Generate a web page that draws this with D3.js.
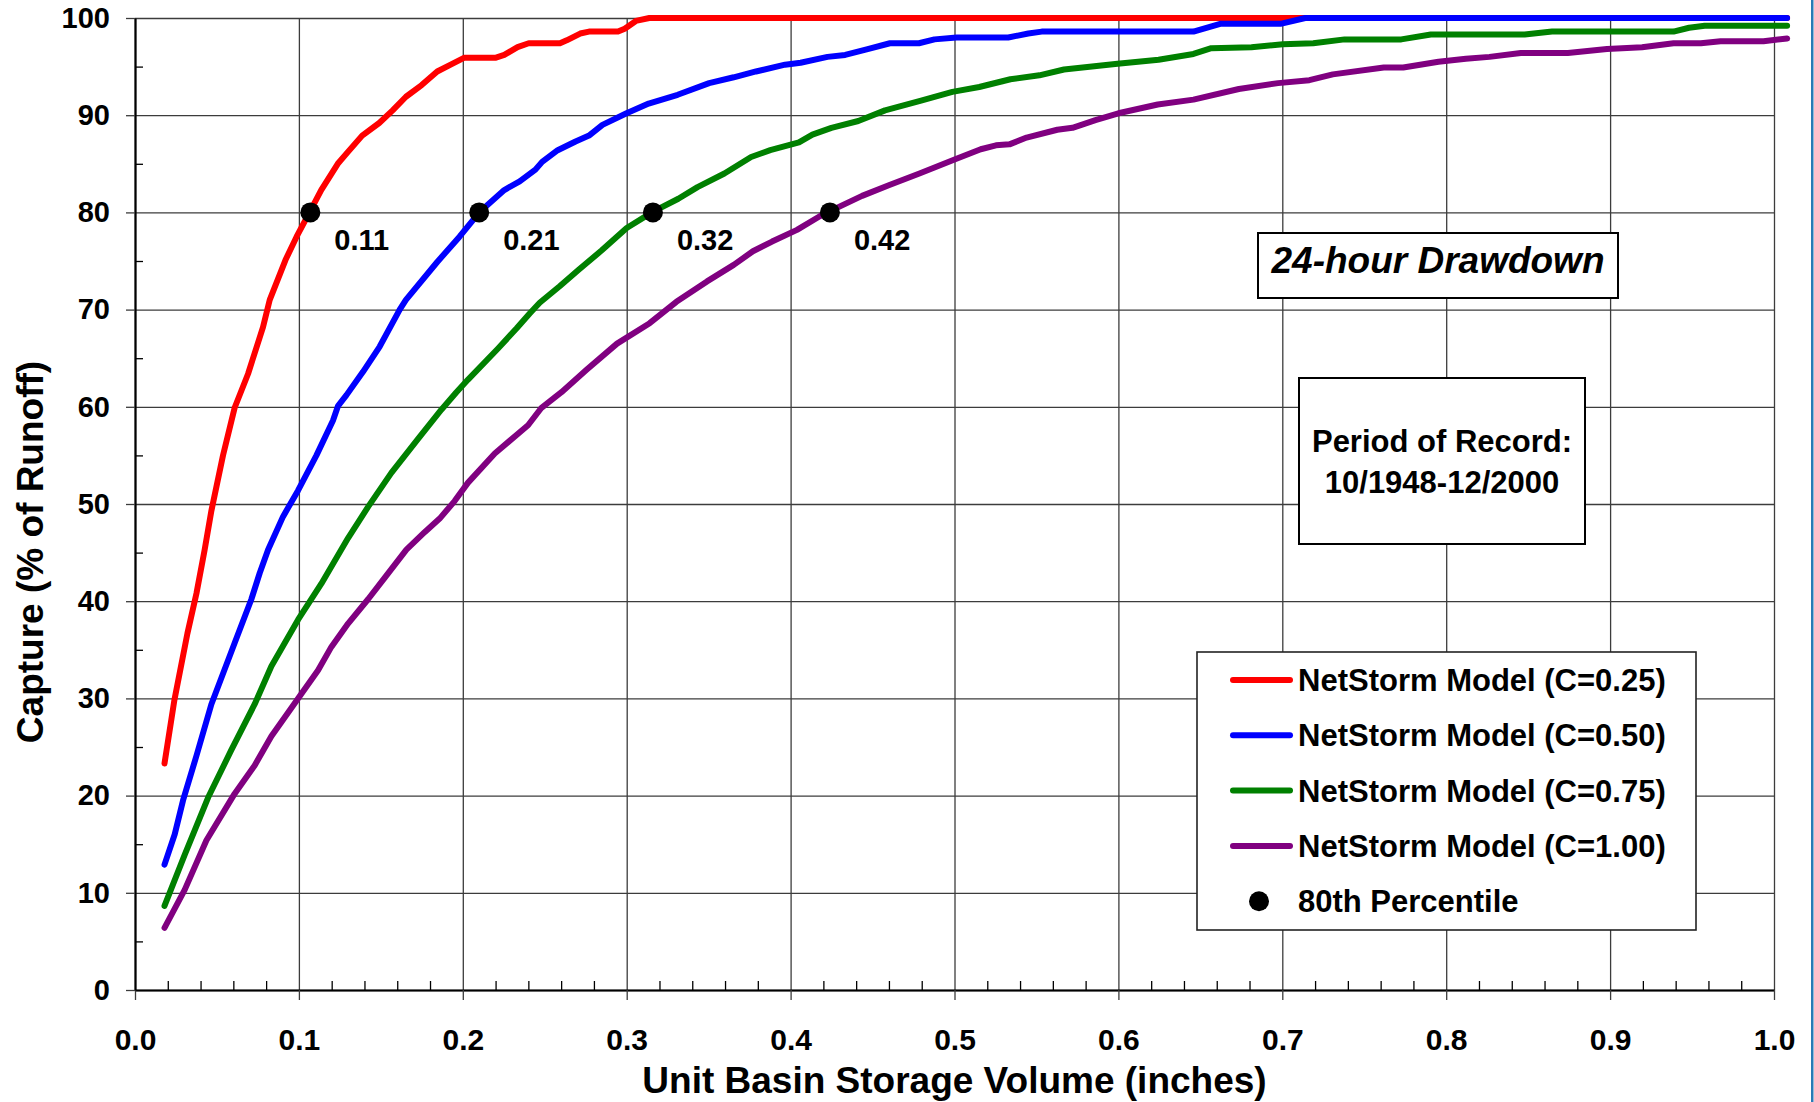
<!DOCTYPE html>
<html><head><meta charset="utf-8">
<script src="https://cdn.jsdelivr.net/npm/d3@7/dist/d3.min.js"></script>
<style>html,body{margin:0;padding:0;background:#fff;overflow:hidden}
text{font-family:"Liberation Sans",Arial,sans-serif;font-weight:bold;fill:#000}</style>
</head><body><svg id="c" width="1814" height="1102"></svg>
<script>
// ---- data ----
const seriesNames = ["NetStorm Model (C=0.25)","NetStorm Model (C=0.50)","NetStorm Model (C=0.75)","NetStorm Model (C=1.00)"];
const seriesColors = ["#FF0000","#0000FF","#008000","#800080"];

const c025X = [0.018,0.024,0.032,0.0375,0.0425,0.0466,0.0537,0.0608,0.069,0.0781,0.0822,0.0918,0.0986,0.1068,0.1136,0.1237,0.1298,0.1386,0.149,0.1572,0.1653,0.1749,0.1844,0.1926,0.2007,0.2198,0.2253,0.2334,0.2402,0.2593,0.2634,0.2716,0.277,0.2947,0.2988,0.3056,0.3138,1.008];
const c025Y = [23.3,29.8,36.7,40.8,45.3,49.3,55.0,59.9,63.4,68.2,71.0,75.1,77.5,80.1,82.3,85.0,86.2,87.9,89.2,90.5,91.9,93.1,94.5,95.2,95.9,95.9,96.2,97.0,97.4,97.4,97.7,98.4,98.6,98.6,98.9,99.7,100,100];

const c050X = [0.018,0.0242,0.0293,0.0375,0.0466,0.0608,0.071,0.0761,0.0812,0.0903,0.0995,0.1107,0.1208,0.1239,0.129,0.1391,0.1493,0.1615,0.1653,0.1844,0.198,0.2106,0.2253,0.2347,0.2443,0.2484,0.2579,0.2688,0.277,0.2852,0.2999,0.3134,0.3311,0.3503,0.3653,0.3789,0.3966,0.4061,0.4225,0.4333,0.447,0.4606,0.4783,0.4878,0.5013,0.5328,0.545,0.5532,0.6458,0.6621,0.6989,0.714,1.008];
const c050Y = [12.9,16.0,19.5,24.1,29.4,35.7,40.2,42.9,45.3,48.7,51.4,55.0,58.6,60.1,61.2,63.6,66.2,70.0,71.0,74.9,77.5,80.1,82.3,83.2,84.4,85.2,86.4,87.3,87.9,89.0,90.2,91.2,92.1,93.3,93.9,94.5,95.2,95.4,96.0,96.2,96.8,97.4,97.4,97.8,98.0,98.0,98.4,98.6,98.6,99.4,99.4,100,100];

const c075X = [0.018,0.0303,0.0446,0.0588,0.073,0.0832,0.0995,0.1137,0.13,0.1422,0.1564,0.1727,0.1869,0.1961,0.2032,0.2215,0.233,0.2408,0.2469,0.2591,0.2707,0.2848,0.3,0.3164,0.3315,0.3432,0.3596,0.3759,0.3876,0.4051,0.4133,0.4249,0.4413,0.4576,0.4796,0.4987,0.5151,0.5341,0.5518,0.5668,0.5995,0.6245,0.6458,0.6567,0.6812,0.7003,0.7189,0.738,0.7726,0.7906,0.8479,0.8646,0.9387,0.9482,0.9577,1.008];
const c075Y = [8.65,13.9,19.8,24.7,29.4,33.3,38.1,41.8,46.5,49.7,53.2,56.7,59.7,61.5,62.8,66.0,68.1,69.6,70.7,72.4,74.1,76.1,78.4,80.1,81.4,82.6,84.0,85.7,86.4,87.2,88.0,88.7,89.4,90.5,91.5,92.4,92.9,93.7,94.1,94.7,95.3,95.7,96.3,96.9,97.0,97.3,97.4,97.8,97.8,98.3,98.3,98.6,98.6,99.0,99.2,99.2];

const c100X = [0.018,0.0303,0.0436,0.0608,0.073,0.0832,0.0995,0.1117,0.1198,0.13,0.1422,0.1523,0.1656,0.1767,0.1859,0.195,0.2032,0.2195,0.2398,0.248,0.2602,0.2755,0.2941,0.314,0.3303,0.349,0.3653,0.377,0.3887,0.4039,0.4178,0.4237,0.4436,0.4599,0.4786,0.5008,0.516,0.5253,0.5335,0.544,0.5627,0.572,0.586,0.6,0.624,0.6458,0.6735,0.6974,0.7165,0.7308,0.7619,0.7738,0.7953,0.812,0.8264,0.8455,0.8742,0.8981,0.9195,0.9387,0.9554,0.9674,0.9936,1.008];
const c100Y = [6.4,10.3,15.4,20.2,23.1,26.1,30.0,32.9,35.3,37.7,40.2,42.4,45.3,47.1,48.5,50.3,52.2,55.2,58.1,59.9,61.5,63.8,66.5,68.6,70.8,72.9,74.6,76.0,77.0,78.2,79.6,80.1,81.7,82.8,84.0,85.5,86.5,86.9,87.0,87.7,88.5,88.7,89.5,90.2,91.1,91.6,92.7,93.3,93.6,94.2,94.9,94.9,95.5,95.8,96.0,96.4,96.4,96.8,97.0,97.4,97.4,97.6,97.6,97.9];

const pctX = [0.107,0.210,0.316,0.424];
const pctY = [80,80,80,80];
const pctLabels = ["0.11","0.21","0.32","0.42"];

const xTicks = [0,0.1,0.2,0.3,0.4,0.5,0.6,0.7,0.8,0.9,1.0];
const xTickLabels = ["0.0","0.1","0.2","0.3","0.4","0.5","0.6","0.7","0.8","0.9","1.0"];
const yTicks = [0,10,20,30,40,50,60,70,80,90,100];
const xTitle = "Unit Basin Storage Volume (inches)";
const yTitle = "Capture (% of Runoff)";
const noteDrawdown = "24-hour Drawdown";
const notePeriod = ["Period of Record:","10/1948-12/2000"];
const pctLegend = "80th Percentile";

// ---- drawing ----
const svg = d3.select("#c");
const L=135, R=1774, T=18, B=990;
const x = d3.scaleLinear().domain([0,1]).range([L,R]);
const y = d3.scaleLinear().domain([0,100]).range([B,T]);

// right-edge frame strip
svg.append("rect").attr("x",1811).attr("y",0).attr("width",2.5).attr("height",1102).attr("fill","#2a7ab5");

// grid
const gridColor="#3c3c3c";
const gx = svg.append("g").attr("transform",`translate(0,${B})`)
  .call(d3.axisBottom(x).tickValues(xTicks).tickSizeInner(-(B-T)).tickSizeOuter(0).tickFormat(""));
gx.select(".domain").remove();
gx.selectAll("line").attr("stroke",gridColor).attr("stroke-width",1.3);
const gy = svg.append("g").attr("transform",`translate(${L},0)`)
  .call(d3.axisLeft(y).tickValues(yTicks).tickSizeInner(-(R-L)).tickSizeOuter(0).tickFormat(""));
gy.select(".domain").remove();
gy.selectAll("line").attr("stroke",gridColor).attr("stroke-width",1.3);

// minor ticks
const xMinor = d3.range(0,1.0001,0.02).filter(v=>Math.abs(v*10-Math.round(v*10))>1e-6);
const mx = svg.append("g").attr("transform",`translate(0,${B})`)
  .call(d3.axisBottom(x).tickValues(xMinor).tickSizeInner(-9).tickSizeOuter(0).tickFormat(""));
mx.select(".domain").remove();
mx.selectAll("line").attr("stroke","#000").attr("stroke-width",1.3);
const yMinor = d3.range(5,100,10);
const my = svg.append("g").attr("transform",`translate(${L},0)`)
  .call(d3.axisLeft(y).tickValues(yMinor).tickSizeInner(-8).tickSizeOuter(0).tickFormat(""));
my.select(".domain").remove();
my.selectAll("line").attr("stroke","#000").attr("stroke-width",1.3);

// main axes with labels
const ax = svg.append("g").attr("transform",`translate(0,${B})`)
  .call(d3.axisBottom(x).tickValues(xTicks).tickSizeInner(10).tickSizeOuter(0).tickPadding(29)
    .tickFormat((d,i)=>xTickLabels[i]));
ax.select(".domain").attr("stroke","#000").attr("stroke-width",2.2);
ax.selectAll("line").attr("stroke",gridColor).attr("stroke-width",1.3);
ax.selectAll("text").attr("font-size",30).attr("font-family",null).attr("fill","#000");
const ay = svg.append("g").attr("transform",`translate(${L},0)`)
  .call(d3.axisLeft(y).tickValues(yTicks).tickSizeInner(9).tickSizeOuter(0).tickPadding(16));
ay.select(".domain").attr("stroke","#000").attr("stroke-width",2.2);
ay.selectAll("line").attr("stroke",gridColor).attr("stroke-width",1.3);
ay.selectAll("text").attr("font-size",29).attr("font-family",null).attr("fill","#000");

// axis titles
svg.append("text").attr("x",(L+R)/2).attr("y",1093).attr("text-anchor","middle")
  .attr("font-size",37).text(xTitle);
svg.append("text").attr("transform","translate(43,552) rotate(-90)").attr("text-anchor","middle")
  .attr("font-size",37).text(yTitle);

// series
const series = [[c025X,c025Y],[c050X,c050Y],[c075X,c075Y],[c100X,c100Y]];
const line = d3.line().x(d=>x(d[0])).y(d=>y(d[1]));
series.forEach((s,i)=>{
  const pts = s[0].map((v,j)=>[v,s[1][j]]);
  svg.append("path").datum(pts).attr("d",line).attr("fill","none")
    .attr("stroke",seriesColors[i]).attr("stroke-width",6)
    .attr("stroke-linejoin","round").attr("stroke-linecap","round");
});

// 80th percentile points and labels
svg.selectAll("circle.pct").data(pctX).enter().append("circle").attr("class","pct")
  .attr("cx",d=>x(d)).attr("cy",(d,i)=>y(pctY[i])).attr("r",10).attr("fill","#000");
svg.selectAll("text.pctl").data(pctX).enter().append("text").attr("class","pctl")
  .attr("x",d=>x(d)+24).attr("y",(d,i)=>y(pctY[i])+38).attr("font-size",29)
  .text((d,i)=>pctLabels[i]);

// 24-hour drawdown box
svg.append("rect").attr("x",1258).attr("y",233).attr("width",360).attr("height",65)
  .attr("fill","#fff").attr("stroke","#000").attr("stroke-width",2);
svg.append("text").attr("x",1438).attr("y",273).attr("text-anchor","middle")
  .attr("font-size",37).attr("font-style","italic").text(noteDrawdown);

// period box
svg.append("rect").attr("x",1299).attr("y",378).attr("width",286).attr("height",166)
  .attr("fill","#fff").attr("stroke","#000").attr("stroke-width",2);
notePeriod.forEach((t,i)=>{
  svg.append("text").attr("x",1442).attr("y",452+i*41).attr("text-anchor","middle")
    .attr("font-size",31).text(t);
});

// legend
svg.append("rect").attr("x",1197).attr("y",652).attr("width",499).attr("height",278)
  .attr("fill","#fff").attr("stroke","#222").attr("stroke-width",1.6);
const rowY = i=>680+i*55.3;
seriesNames.forEach((n,i)=>{
  svg.append("line").attr("x1",1233).attr("x2",1290).attr("y1",rowY(i)).attr("y2",rowY(i))
    .attr("stroke",seriesColors[i]).attr("stroke-width",6).attr("stroke-linecap","round");
  svg.append("text").attr("x",1298).attr("y",rowY(i)+11).attr("font-size",31).text(n);
});
svg.append("circle").attr("cx",1259).attr("cy",rowY(4)).attr("r",10).attr("fill","#000");
svg.append("text").attr("x",1298).attr("y",rowY(4)+11).attr("font-size",31).text(pctLegend);
</script></body></html>
